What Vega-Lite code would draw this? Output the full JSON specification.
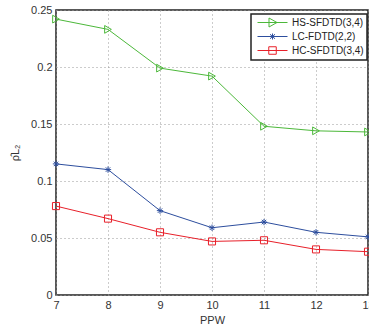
{
  "$schema": "https://vega.github.io/schema/vega-lite/v6.json",
  "width": 312,
  "height": 285,
  "autosize": {"type": "none"},
  "padding": {"left": 56, "top": 10, "right": 1, "bottom": 34},
  "background": "white",
  "config": {
    "font": "Liberation Sans",
    "view": {"stroke": "#222", "strokeWidth": 1.5},
    "axis": {
      "labelFont": "Liberation Sans",
      "titleFont": "Liberation Sans",
      "labelFontSize": 11,
      "titleFontSize": 11,
      "titleFontWeight": "normal",
      "labelColor": "#333",
      "titleColor": "#333",
      "grid": true,
      "gridColor": "#999",
      "gridDash": [1, 3],
      "gridWidth": 1,
      "domain": false,
      "tickColor": "#222",
      "tickSize": 0,
      "labelFlush": false
    },
    "legend": {
      "title": null,
      "orient": "none",
      "legendX": 195,
      "legendY": 4,
      "fillColor": "white",
      "strokeColor": "#222",
      "strokeWidth": 1.5,
      "padding": 3,
      "rowPadding": 2,
      "labelFontSize": 10,
      "labelColor": "#222",
      "labelFont": "Liberation Sans",
      "symbolSize": 100,
      "symbolStrokeWidth": 1,
      "labelOffset": 27
    }
  },
  "data": {
    "values": [
      {"series": "HS-SFDTD(3,4)", "ppw": 7, "value": 0.242},
      {"series": "HS-SFDTD(3,4)", "ppw": 8, "value": 0.233},
      {"series": "HS-SFDTD(3,4)", "ppw": 9, "value": 0.199},
      {"series": "HS-SFDTD(3,4)", "ppw": 10, "value": 0.192},
      {"series": "HS-SFDTD(3,4)", "ppw": 11, "value": 0.148},
      {"series": "HS-SFDTD(3,4)", "ppw": 12, "value": 0.144},
      {"series": "HS-SFDTD(3,4)", "ppw": 13, "value": 0.143},
      {"series": "LC-FDTD(2,2)", "ppw": 7, "value": 0.115},
      {"series": "LC-FDTD(2,2)", "ppw": 8, "value": 0.110},
      {"series": "LC-FDTD(2,2)", "ppw": 9, "value": 0.074},
      {"series": "LC-FDTD(2,2)", "ppw": 10, "value": 0.059},
      {"series": "LC-FDTD(2,2)", "ppw": 11, "value": 0.064},
      {"series": "LC-FDTD(2,2)", "ppw": 12, "value": 0.055},
      {"series": "LC-FDTD(2,2)", "ppw": 13, "value": 0.051},
      {"series": "HC-SFDTD(3,4)", "ppw": 7, "value": 0.078},
      {"series": "HC-SFDTD(3,4)", "ppw": 8, "value": 0.067},
      {"series": "HC-SFDTD(3,4)", "ppw": 9, "value": 0.055},
      {"series": "HC-SFDTD(3,4)", "ppw": 10, "value": 0.047},
      {"series": "HC-SFDTD(3,4)", "ppw": 11, "value": 0.048},
      {"series": "HC-SFDTD(3,4)", "ppw": 12, "value": 0.040},
      {"series": "HC-SFDTD(3,4)", "ppw": 13, "value": 0.038}
    ]
  },
  "encoding": {
    "x": {
      "field": "ppw",
      "type": "quantitative",
      "scale": {"domain": [7, 13], "nice": false, "zero": false},
      "axis": {"values": [7, 8, 9, 10, 11, 12, 13], "title": "PPW", "labelPadding": 4, "titlePadding": 4}
    },
    "y": {
      "field": "value",
      "type": "quantitative",
      "scale": {"domain": [0, 0.25], "nice": false},
      "axis": {"values": [0, 0.05, 0.1, 0.15, 0.2, 0.25], "format": ".2~f", "title": "ρ̂L₂", "labelPadding": 4, "titlePadding": 10}
    },
    "color": {
      "field": "series",
      "type": "nominal",
      "scale": {
        "domain": ["HS-SFDTD(3,4)", "LC-FDTD(2,2)", "HC-SFDTD(3,4)"],
        "range": ["#4cb83a", "#2d4e9e", "#e8202a"]
      },
      "legend": {
        "encode": {
          "symbols": {
            "update": {
              "shape": {"signal": "datum.value === 'HS-SFDTD(3,4)' ? 'M-0.4,0L5.6,0M1.9,-0.9L3.5,0L1.9,0.9Z' : datum.value === 'LC-FDTD(2,2)' ? 'M-0.4,0L5.6,0M2.6,-0.6L2.6,0.6M2.1,-0.45L3.1,0.45M2.1,0.45L3.1,-0.45' : 'M-0.4,0L5.6,0M1.85,-0.75L3.35,-0.75L3.35,0.75L1.85,0.75Z'"},
              "fill": {"value": "transparent"},
              "stroke": {"signal": "datum.value === 'HS-SFDTD(3,4)' ? '#4cb83a' : datum.value === 'LC-FDTD(2,2)' ? '#2d4e9e' : '#e8202a'"}
            }
          }
        }
      }
    }
  },
  "layer": [
    {
      "mark": {"type": "line", "strokeWidth": 1},
      "encoding": {"detail": {"field": "series"}}
    },
    {
      "transform": [{"filter": "datum.series === 'HS-SFDTD(3,4)'"}],
      "mark": {"type": "point", "shape": "triangle-right", "filled": false, "strokeWidth": 1, "opacity": 1, "size": 60}
    },
    {
      "transform": [{"filter": "datum.series === 'LC-FDTD(2,2)'"}],
      "mark": {"type": "point", "shape": "M-1,0L1,0M0,-1L0,1M-0.7,-0.7L0.7,0.7M-0.7,0.7L0.7,-0.7", "filled": false, "strokeWidth": 1, "opacity": 1, "size": 40}
    },
    {
      "transform": [{"filter": "datum.series === 'HC-SFDTD(3,4)'"}],
      "mark": {"type": "point", "shape": "square", "filled": false, "strokeWidth": 1, "opacity": 1, "size": 50}
    }
  ]
}
